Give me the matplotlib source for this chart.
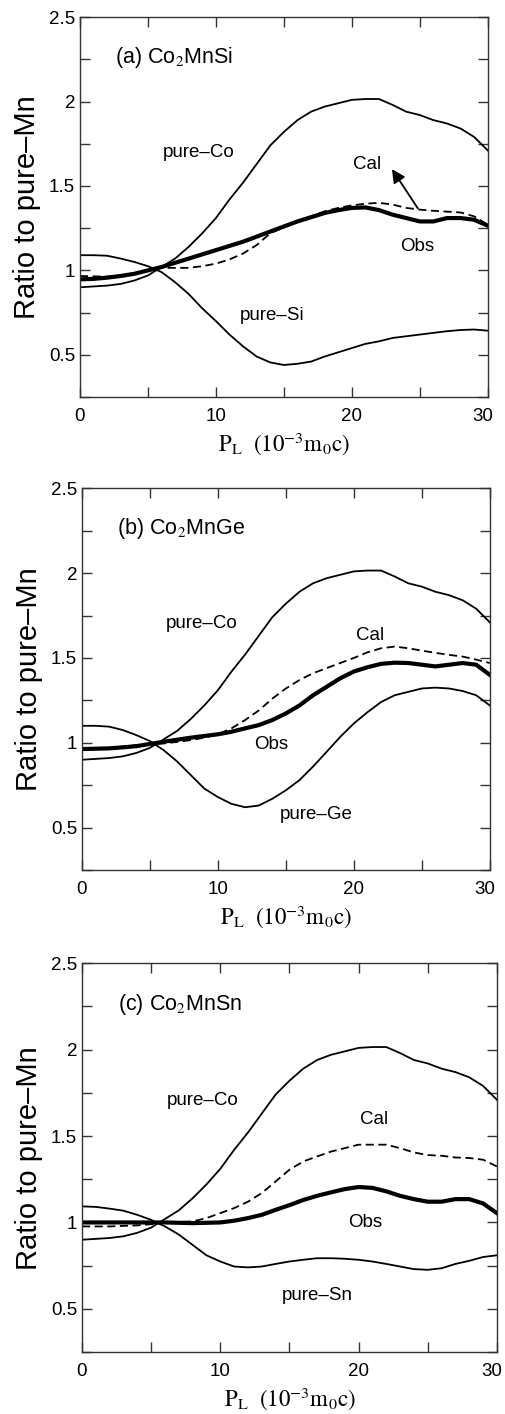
import numpy as np
import matplotlib.pyplot as plt
import matplotlib.transforms as mtransforms
from matplotlib.ticker import MultipleLocator, FormatStrFormatter

plt.rcParams['font.family'] = ['Liberation Sans', 'DejaVu Sans']
plt.rcParams['mathtext.fontset'] = 'stix'

p_l = np.arange(0, 31)

pure_co = [0.90, 0.905, 0.91, 0.92, 0.94, 0.97, 1.02, 1.07, 1.14, 1.22, 1.31,
           1.42, 1.52, 1.63, 1.74, 1.82, 1.89, 1.94, 1.97, 1.99, 2.01,
           2.015, 2.015, 1.98, 1.94, 1.92, 1.89, 1.87, 1.84, 1.79, 1.71]

# panel (a) Co2MnSi
pure_si = [1.09, 1.09, 1.087, 1.07, 1.05, 1.025, 0.99, 0.93, 0.86, 0.775, 0.70,
           0.62, 0.55, 0.49, 0.455, 0.44, 0.447, 0.46, 0.49, 0.515, 0.54,
           0.565, 0.58, 0.60, 0.61, 0.62, 0.63, 0.64, 0.647, 0.65, 0.643]
obs_a = [0.947, 0.95, 0.957, 0.967, 0.98, 1.0, 1.02, 1.045, 1.07, 1.095, 1.12,
         1.145, 1.17, 1.2, 1.23, 1.26, 1.29, 1.315, 1.34, 1.357, 1.37,
         1.373, 1.357, 1.33, 1.31, 1.29, 1.29, 1.31, 1.31, 1.30, 1.265]
cal_a = [0.967, 0.965, 0.963, 0.97, 0.98, 0.997, 1.015, 1.015, 1.015, 1.025, 1.04,
         1.065, 1.10, 1.15, 1.22, 1.255, 1.29, 1.32, 1.35, 1.37, 1.385,
         1.395, 1.40, 1.39, 1.37, 1.36, 1.353, 1.348, 1.343, 1.32, 1.27]

# panel (b) Co2MnGe
pure_ge = [1.10, 1.10, 1.095, 1.075, 1.045, 1.01, 0.957, 0.89, 0.81, 0.73, 0.68,
           0.64, 0.62, 0.63, 0.67, 0.72, 0.78, 0.86, 0.947, 1.035, 1.114,
           1.18, 1.24, 1.28, 1.30, 1.32, 1.325, 1.32, 1.305, 1.28, 1.22]
obs_b = [0.963, 0.965, 0.967, 0.973, 0.98, 0.993, 1.006, 1.018, 1.03, 1.04, 1.05,
         1.065, 1.085, 1.104, 1.134, 1.173, 1.22, 1.28, 1.33, 1.38, 1.42,
         1.445, 1.465, 1.472, 1.47, 1.46, 1.45, 1.46, 1.47, 1.46, 1.40]
cal_b = [0.967, 0.968, 0.97, 0.978, 0.986, 0.99, 0.996, 1.005, 1.016, 1.03, 1.05,
         1.085, 1.134, 1.19, 1.26, 1.32, 1.37, 1.41, 1.44, 1.47, 1.50,
         1.533, 1.557, 1.567, 1.557, 1.543, 1.53, 1.518, 1.508, 1.49, 1.47]

# panel (c) Co2MnSn
pure_sn = [1.093, 1.09, 1.08, 1.068, 1.044, 1.015, 0.977, 0.93, 0.87, 0.81, 0.774,
           0.745, 0.74, 0.745, 0.76, 0.774, 0.784, 0.793, 0.793, 0.79, 0.784,
           0.774, 0.76, 0.745, 0.73, 0.726, 0.735, 0.76, 0.778, 0.80, 0.81]
obs_c = [1.0, 1.0, 1.0, 1.0, 1.0, 1.0, 1.0, 0.998, 0.996, 0.998, 1.0,
         1.01, 1.025, 1.044, 1.073, 1.10, 1.13, 1.154, 1.174, 1.193, 1.205,
         1.20, 1.18, 1.154, 1.135, 1.12, 1.12, 1.135, 1.135, 1.11, 1.054]
cal_c = [0.977, 0.977, 0.977, 0.98, 0.983, 0.99, 1.0, 1.003, 1.006, 1.025, 1.054,
         1.083, 1.12, 1.17, 1.237, 1.305, 1.353, 1.382, 1.41, 1.43, 1.45,
         1.45, 1.45, 1.43, 1.405, 1.39, 1.386, 1.376, 1.373, 1.363, 1.324]

panels = [
    dict(pos=[0.158, 0.7192, 0.806, 0.2687], title=r'(a) Co$_2$MnSi',
         other=pure_si, obs=obs_a, cal=cal_a,
         labels=[('pure–Co', 8.7, 1.70), ('pure–Si', 14.1, 0.735),
                 ('Obs', 24.8, 1.14), ('Cal', 21.1, 1.63)],
         arrow=((24.85, 1.368), (22.95, 1.60))),
    dict(pos=[0.162, 0.3847, 0.806, 0.270], title=r'(b) Co$_2$MnGe',
         other=pure_ge, obs=obs_b, cal=cal_b,
         labels=[('pure–Co', 8.8, 1.705), ('pure–Ge', 17.2, 0.58),
                 ('Obs', 13.9, 0.99), ('Cal', 21.2, 1.63)],
         arrow=None),
    dict(pos=[0.162, 0.0438, 0.820, 0.275], title=r'(c) Co$_2$MnSn',
         other=pure_sn, obs=obs_c, cal=cal_c,
         labels=[('pure–Co', 8.75, 1.707), ('pure–Sn', 17.05, 0.58),
                 ('Obs', 20.5, 1.0), ('Cal', 21.15, 1.595)],
         arrow=None),
]

fig = plt.figure(figsize=(5.06, 14.14), dpi=100)

for p in panels:
    ax = fig.add_axes(p['pos'])
    ax.plot(p_l, pure_co, color='black', lw=1.3)
    ax.plot(p_l, p['other'], color='black', lw=1.3)
    ax.plot(p_l, p['cal'], color='black', lw=1.3, linestyle=(0, (4.5, 2.5)))
    ax.plot(p_l, p['obs'], color='black', lw=3.0)
    for txt, x, y in p['labels']:
        ax.text(x, y, txt, fontsize=13.5, ha='center', va='center')
    ax.text(2.6, 2.26, p['title'], fontsize=15.5, ha='left', va='center')
    if p['arrow'] is not None:
        ax.annotate('', xy=p['arrow'][1], xytext=p['arrow'][0],
                    arrowprops=dict(arrowstyle='-|>', color='black', lw=1.3,
                                    mutation_scale=20, shrinkA=0, shrinkB=0))
    ax.set_xlim(0, 30)
    ax.set_ylim(0.25, 2.5)
    ax.xaxis.set_major_locator(MultipleLocator(10))
    ax.xaxis.set_minor_locator(MultipleLocator(5))
    ax.yaxis.set_major_locator(MultipleLocator(0.5))
    ax.yaxis.set_minor_locator(MultipleLocator(0.25))
    ax.yaxis.set_major_formatter(FormatStrFormatter('%g'))
    ax.tick_params(which='both', direction='in', top=True, right=True,
                   length=7, width=1, color='#333333', labelsize=13.5)
    ax.tick_params(axis='x', pad=8)
    for s in ax.spines.values():
        s.set_color('#333333')
        s.set_linewidth(1)
    ax.set_ylabel('Ratio to pure–Mn', fontsize=21, labelpad=6)
    ax.set_xlabel(r'$\mathrm{P_L}\ \ (10^{-3}\mathrm{m_0c})$', fontsize=16.5, labelpad=4)
    # the "30" label sits a little left of the axis end, as in the original
    fig.canvas.draw()
    for lab in ax.get_xticklabels():
        if lab.get_text() == '30':
            lab.set_transform(lab.get_transform() +
                              mtransforms.ScaledTranslation(-5 / 100, 0, fig.dpi_scale_trans))

fig.savefig('out.png', dpi=100)
